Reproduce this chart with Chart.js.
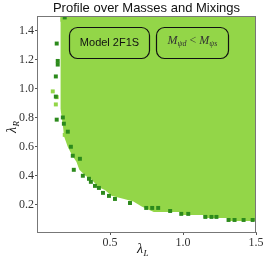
<!DOCTYPE html>
<html>
<head>
<meta charset="utf-8">
<script src="https://cdn.jsdelivr.net/npm/chart.js@4"></script>
<style>
  body { margin: 0; background: #fff; }
</style>
</head>
<body>
<canvas id="c" width="266" height="267"></canvas>
<script>
// allowed region edge (lambda_L, lambda_R)
const edgeX = [0.16, 0.155, 0.15, 0.145, 0.14, 0.14, 0.135, 0.13, 0.12, 0.125, 0.15, 0.16, 0.17, 0.18, 0.185, 0.21, 0.24, 0.27, 0.29, 0.33, 0.375, 0.42, 0.465, 0.51, 0.59, 0.66, 0.72, 0.80, 0.98, 0.98, 1.14, 1.14, 1.31, 1.31, 1.50];
const edgeY = [1.50, 1.46, 1.42, 1.35, 1.28, 1.20, 1.12, 1.05, 1.00, 0.96, 0.92, 0.86, 0.80, 0.72, 0.67, 0.60, 0.54, 0.495, 0.44, 0.40, 0.37, 0.32, 0.30, 0.26, 0.24, 0.22, 0.185, 0.148, 0.148, 0.128, 0.128, 0.107, 0.107, 0.086, 0.086];

// darker points along the edge
const darkX = [0.19, 0.135, 0.142, 0.142, 0.129, 0.129, 0.135, 0.177, 0.184, 0.211, 0.232, 0.245, 0.294, 0.252, 0.314, 0.356, 0.369, 0.397, 0.424, 0.452, 0.493, 0.534, 0.637, 0.748, 0.789, 0.830, 0.912, 0.988, 1.036, 1.153, 1.195, 1.229, 1.312, 1.353, 1.415, 1.477];
const darkY = [1.49, 1.31, 1.19, 1.165, 1.083, 0.944, 0.785, 0.80, 0.757, 0.702, 0.598, 0.536, 0.515, 0.439, 0.398, 0.377, 0.356, 0.328, 0.314, 0.280, 0.259, 0.238, 0.210, 0.176, 0.176, 0.176, 0.155, 0.135, 0.135, 0.114, 0.114, 0.114, 0.093, 0.093, 0.093, 0.093];

// stray light points outside the edge
const lightX = [0.108, 0.129, 0.135, 0.19];
const lightY = [0.98, 0.89, 0.94, 0.68];

const xTicks = [0.5, 1.0, 1.5];
const yTicks = [0.2, 0.4, 0.6, 0.8, 1.0, 1.2, 1.4];

const LIGHT = "#93d648";
const DARK = "#2c8a1c";

const toPoints = (xs, ys) => xs.map((x, i) => ({ x: x, y: ys[i] }));

const decor = {
  id: "decor",
  afterDatasetsDraw(chart) {
    const { ctx, chartArea: a } = chart;
    ctx.save();
    // frame
    ctx.strokeStyle = "#777";
    ctx.lineWidth = 1;
    ctx.strokeRect(a.left + 0.5, a.top + 0.5, a.right - a.left - 1, a.bottom - a.top);

    // text boxes
    ctx.strokeStyle = "#111";
    ctx.lineWidth = 1.2;
    ctx.beginPath();
    ctx.roundRect(69.5, 27.5, 80, 31, 8);
    ctx.stroke();
    ctx.beginPath();
    ctx.roundRect(156.5, 27.5, 72, 31, 8);
    ctx.stroke();

    ctx.fillStyle = "#111";
    ctx.font = "11px 'Liberation Sans'";
    ctx.textAlign = "center";
    ctx.textBaseline = "alphabetic";
    ctx.fillText("Model 2F1S", 109.5, 46);

    // M_{psi_d} < M_{psi_s}
    const parts = [
      ["M", "italic 12px 'Liberation Serif'", 0],
      ["ψd", "italic 8px 'Liberation Serif'", 2.5],
      [" < ", "12px 'Liberation Serif'", 0],
      ["M", "italic 12px 'Liberation Serif'", 0],
      ["ψs", "italic 8px 'Liberation Serif'", 2.5]
    ];
    ctx.textAlign = "left";
    ctx.fillStyle = "#333";
    let w = 0;
    parts.forEach(p => { ctx.font = p[1]; w += ctx.measureText(p[0]).width; });
    let x = 192.5 - w / 2;
    parts.forEach(p => {
      ctx.font = p[1];
      ctx.fillText(p[0], x, 43.5 + p[2]);
      x += ctx.measureText(p[0]).width;
    });
    ctx.restore();
  },
  afterDraw(chart) {
    const { ctx } = chart;
    ctx.save();
    ctx.fillStyle = "#111";
    ctx.textBaseline = "alphabetic";
    ctx.textAlign = "center";
    ctx.font = "13px 'Liberation Sans'";
    ctx.fillText("Profile over Masses and Mixings", 146.5, 12);

    // lambda_L
    ctx.textAlign = "left";
    ctx.font = "italic 14px 'Liberation Serif'";
    ctx.fillText("λ", 137, 253);
    let lw = ctx.measureText("λ").width;
    ctx.font = "italic 9px 'Liberation Serif'";
    ctx.fillText("L", 137 + lw + 0.5, 256);

    // lambda_R
    ctx.translate(16, 133);
    ctx.rotate(-Math.PI / 2);
    ctx.font = "italic 14px 'Liberation Serif'";
    ctx.fillText("λ", 0, 0);
    lw = ctx.measureText("λ").width;
    ctx.font = "italic 9px 'Liberation Serif'";
    ctx.fillText("R", lw + 0.5, 3);
    ctx.restore();
  }
};

const tickFont = { family: "Liberation Serif", size: 12 };

new Chart(document.getElementById("c"), {
  type: "scatter",
  data: {
    datasets: [
      {
        label: "edge",
        data: toPoints(darkX, darkY),
        pointStyle: "rect",
        pointRadius: 2.8,
        pointBorderWidth: 0,
        backgroundColor: DARK,
        borderColor: DARK
      },
      {
        label: "stray",
        data: toPoints(lightX, lightY),
        pointStyle: "rect",
        pointRadius: 2.8,
        pointBorderWidth: 0,
        backgroundColor: LIGHT,
        borderColor: LIGHT
      },
      {
        label: "allowed",
        data: toPoints(edgeX, edgeY),
        showLine: true,
        fill: "end",
        backgroundColor: LIGHT,
        borderColor: "rgba(0,0,0,0)",
        borderWidth: 0,
        pointRadius: 0,
        tension: 0
      }
    ]
  },
  options: {
    responsive: false,
    animation: false,
    layout: { padding: { top: 16, right: 10, left: 0, bottom: 0 } },
    plugins: {
      legend: { display: false },
      tooltip: { enabled: false },
      title: { display: false }
    },
    scales: {
      x: {
        type: "linear",
        min: 0,
        max: 1.5,
        afterBuildTicks: s => { s.ticks = xTicks.map(v => ({ value: v })); },
        afterFit: s => { s.height = 35; },
        ticks: { callback: v => v.toFixed(1), font: tickFont, color: "#333", padding: 1, maxRotation: 0, autoSkip: false },
        grid: { drawOnChartArea: false, tickLength: 3, color: "#555" },
        border: { color: "#777" }
      },
      y: {
        type: "linear",
        min: 0.01,
        max: 1.5,
        afterBuildTicks: s => { s.ticks = yTicks.map(v => ({ value: v })); },
        afterFit: s => { s.width = 37; },
        ticks: { callback: v => v.toFixed(1), font: tickFont, color: "#333", padding: 1, autoSkip: false },
        grid: { drawOnChartArea: false, tickLength: 2, color: "#555" },
        border: { color: "#777" }
      }
    }
  },
  plugins: [decor]
});
</script>
</body>
</html>
